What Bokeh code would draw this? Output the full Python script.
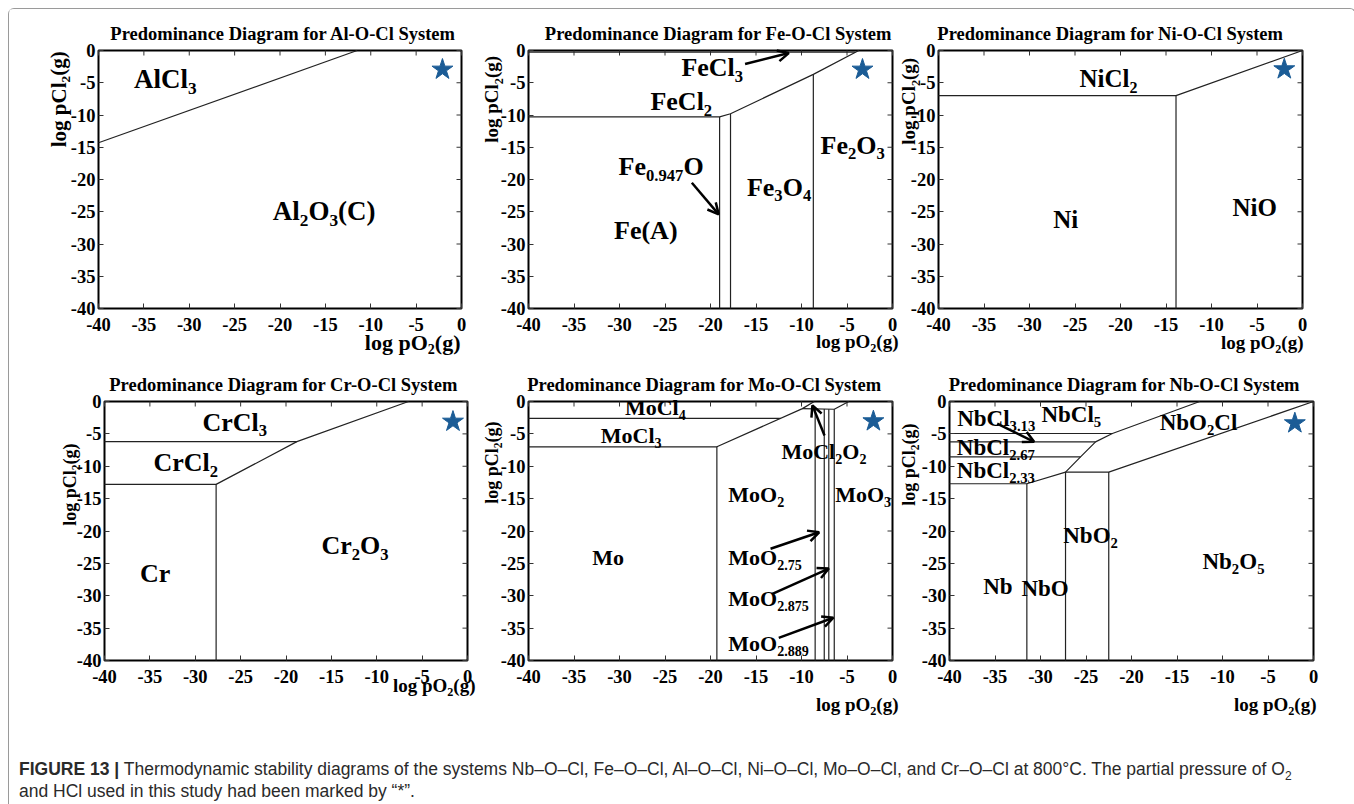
import re
import math
from bokeh.plotting import figure
from bokeh.models import (Range1d, FixedTicker, ColumnDataSource, LinearAxis,
                          LabelSet, Arrow, OpenHead, Div)
from bokeh.layouts import row, column
from bokeh.embed import file_html
from bokeh.resources import INLINE
from bokeh.core.properties import value

# ------------------------------------------------------------------ data
X_MIN, X_MAX = -40, 0
Y_MIN, Y_MAX = -40, 0
TICKS = [-40, -35, -30, -25, -20, -15, -10, -5, 0]
TICK_LABELS = ["-40", "-35", "-30", "-25", "-20", "-15", "-10", "-5", "0"]
X_TITLE = "log pO_{2}(g)"
Y_TITLE = "log pCl_{2}(g)"

# Al-O-Cl
AL_TITLE = "Predominance Diagram for Al-O-Cl System"
AL_XS = [[-40, -11.5]]
AL_YS = [[-14.3, 0]]
AL_STAR = [-2.1, -2.95]
AL_LABELS = ["AlCl_{3}", "Al_{2}O_{3}(C)"]
AL_LX = [-36.1, -20.8]
AL_LY = [-5.8, -26.3]
AL_AX0, AL_AY0, AL_AX1, AL_AY1 = [], [], [], []

# Fe-O-Cl
FE_TITLE = "Predominance Diagram for Fe-O-Cl System"
FE_XS = [[-40, -19.0, -17.8, -8.7, -3.7], [-19.0, -19.0], [-17.8, -17.8],
         [-8.7, -8.7], [-40, -4.1]]
FE_YS = [[-10.3, -10.3, -9.8, -3.7, 0], [-40, -10.3], [-40, -9.8],
         [-40, -3.7], [-0.25, -0.25]]
FE_STAR = [-3.3, -2.95]
FE_LABELS = ["FeCl_{3}", "FeCl_{2}", "Fe_{0.947}O", "Fe(A)", "Fe_{3}O_{4}", "Fe_{2}O_{3}"]
FE_LX = [-23.2, -26.6, -30.1, -30.6, -16.0, -7.9]
FE_LY = [-4.0, -9.2, -19.3, -29.3, -22.5, -16.0]
FE_AX0, FE_AY0 = [-16.2, -22.05], [-2.1, -20.5]
FE_AX1, FE_AY1 = [-11.4, -19.1], [-0.4, -25.4]

# Ni-O-Cl
NI_TITLE = "Predominance Diagram for Ni-O-Cl System"
NI_XS = [[-40, -13.9, 0], [-13.9, -13.9]]
NI_YS = [[-7.0, -7.0, 0], [-40, -7.0]]
NI_STAR = [-2.0, -2.9]
NI_LABELS = ["NiCl_{2}", "Ni", "NiO"]
NI_LX = [-24.5, -27.4, -7.7]
NI_LY = [-5.7, -27.5, -25.7]
NI_AX0, NI_AY0, NI_AX1, NI_AY1 = [], [], [], []

# Cr-O-Cl
CR_TITLE = "Predominance Diagram for Cr-O-Cl System"
CR_XS = [[-40, -18.8], [-40, -27.7, -18.8, -6.5], [-27.7, -27.7]]
CR_YS = [[-6.2, -6.2], [-12.8, -12.8, -6.2, 0], [-40, -12.8]]
CR_STAR = [-1.6, -3.1]
CR_LABELS = ["CrCl_{3}", "CrCl_{2}", "Cr", "Cr_{2}O_{3}"]
CR_LX = [-29.2, -34.6, -36.1, -16.1]
CR_LY = [-4.5, -10.8, -27.9, -23.6]
CR_AX0, CR_AY0, CR_AX1, CR_AY1 = [], [], [], []

# Mo-O-Cl
MO_TITLE = "Predominance Diagram for Mo-O-Cl System"
MO_XS = [[-40, -19.3, -9.9, -8.6], [-19.3, -19.3], [-40, -12.3],
         [-9.9, -6.4, -4.8], [-8.5, -8.5], [-7.5, -7.5], [-7.0, -7.0], [-6.4, -6.4]]
MO_YS = [[-7.0, -7.0, -1.1, 0], [-40, -7.0], [-2.6, -2.6],
         [-1.1, -1.2, 0], [-40, -1.15], [-40, -1.15], [-40, -1.2], [-40, -1.2]]
MO_STAR = [-2.1, -3.04]
MO_LABELS = ["MoCl_{4}", "MoCl_{3}", "MoCl_{2}O_{2}", "MoO_{2}", "MoO_{3}", "Mo",
             "MoO_{2.75}", "MoO_{2.875}", "MoO_{2.889}"]
MO_LX = [-29.4, -32.05, -12.2, -18.05, -6.3, -33.0, -18.05, -18.05, -18.05]
MO_LY = [-2.16, -6.4, -8.85, -15.5, -15.5, -25.2, -25.2, -31.6, -38.5]
MO_AX0, MO_AY0 = [-7.47, -13.4, -13.2, -12.5], [-5.25, -22.75, -29.7, -36.5]
MO_AX1, MO_AY1 = [-8.8, -8.06, -7.0, -6.5], [-0.6, -20.2, -25.8, -33.4]

# Nb-O-Cl
NB_TITLE = "Predominance Diagram for Nb-O-Cl System"
NB_XS = [[-40, -22.1], [-40, -23.95], [-40, -25.6], [-40, -31.5, -27.25, -22.5, 0],
         [-27.25, -25.6, -23.95, -22.1, -12.5], [-31.5, -31.5], [-27.25, -27.25],
         [-22.5, -22.5]]
NB_YS = [[-4.94, -4.94], [-6.23, -6.23], [-8.55, -8.55], [-12.7, -12.7, -10.9, -10.9, 0],
         [-10.9, -8.55, -6.23, -4.94, 0], [-40, -12.7], [-40, -10.9], [-40, -10.9]]
NB_STAR = [-2.05, -3.35]
NB_LABELS = ["NbCl_{3.13}", "NbCl_{5}", "NbCl_{2.67}", "NbCl_{2.33}", "NbO_{2}Cl",
             "NbO_{2}", "Nb_{2}O_{5}", "Nb", "NbO"]
NB_LX = [-39.16, -29.9, -39.2, -39.2, -16.9, -27.5, -12.2, -36.3, -32.1]
NB_LY = [-3.8, -3.1, -8.3, -11.8, -4.4, -21.9, -25.8, -29.7, -30.1]
NB_AX0, NB_AY0, NB_AX1, NB_AY1 = [-34.76], [-3.4], [-30.7], [-6.23]

CAPTION = ('<b>FIGURE 13 |</b> Thermodynamic stability diagrams of the systems '
           'Nb–O–Cl, Fe–O–Cl, Al–O–Cl, Ni–O–Cl, Mo–O–Cl, and Cr–O–Cl at 800°C. '
           'The partial pressure of O<sub style="font-size:12px;line-height:0">2</sub><br>'
           'and HCl used in this study had been marked by “*”.')

# ------------------------------------------------------------------ styling helpers
SERIF = "Liberation Serif"
STAR_COLOR = "#1b5c96"
LINE_COLOR = "#222222"

WIDTHS = {' ': 250, '(': 333, ')': 333, '-': 333, '.': 250, 'A': 722, 'C': 722,
          'D': 722, 'F': 611, 'M': 944, 'N': 722, 'O': 778, 'P': 611, 'S': 556,
          'a': 500, 'b': 556, 'c': 444, 'd': 556, 'e': 444, 'f': 333, 'g': 500,
          'i': 278, 'l': 278, 'm': 833, 'n': 556, 'o': 500, 'p': 556, 'r': 444,
          's': 389, 't': 333, 'y': 500}


def text_width(s, size):
    return sum(WIDTHS.get(c, 500) for c in s) / 1000.0 * size


def parse(markup):
    parts = re.split(r"_\{([^}]*)\}", markup)
    return [(p, i % 2 == 1) for i, p in enumerate(parts) if p]


def rich_rows(items, angle=0.0, align="left", ratio=0.64, drop=0.22):
    rows = []
    ca, sa = math.cos(angle), math.sin(angle)
    for markup, x, y, size, bdx, bdy in items:
        segs = parse(markup)
        total = sum(text_width(t, size * ratio if sub else size) for t, sub in segs)
        adv = {"left": 0.0, "center": -total / 2.0, "right": -total}[align]
        for t, sub in segs:
            fs = size * ratio if sub else size
            d = drop * size if sub else 0.0
            rows.append((x, y, t, bdx + adv * ca + d * sa, bdy + adv * sa - d * ca,
                         "%.1fpx" % fs))
            adv += text_width(t, fs)
    return rows


def add_rich(p, items, angle=0.0, align="left"):
    rows = rich_rows(items, angle=angle, align=align)
    src = ColumnDataSource(dict(x=[r[0] for r in rows], y=[r[1] for r in rows],
                                text=[r[2] for r in rows], xo=[r[3] for r in rows],
                                yo=[r[4] for r in rows], fs=[r[5] for r in rows]))
    p.add_layout(LabelSet(source=src, x="x", y="y", text="text", x_offset="xo",
                          y_offset="yo", text_font_size="fs", angle=angle,
                          text_font=value(SERIF), text_font_style="bold",
                          text_align="left", text_baseline="alphabetic",
                          text_color="black"))


def style_axis(ax):
    ax.ticker = FixedTicker(ticks=TICKS)
    ax.major_label_overrides = {t: l for t, l in zip(TICKS, TICK_LABELS)}
    ax.axis_line_color = None
    ax.major_tick_in = 5
    ax.major_tick_out = 0
    ax.minor_tick_in = 0
    ax.minor_tick_out = 0
    ax.major_tick_line_color = "#333333"
    ax.major_tick_line_width = 1
    ax.major_label_text_font = SERIF
    ax.major_label_text_font_style = "bold"
    ax.major_label_text_font_size = "18.5px"
    ax.major_label_text_color = "black"


def make_panel(title, title_dx, xs, ys, star, labels, lx, ly, lsize,
               ax0, ay0, ax1, ay1, xlab, ylab, width, borders, height):
    bl, br, bt, bb = borders
    ux = (X_MAX - X_MIN) / float(width - bl - br)     # data units per pixel
    uy = (Y_MAX - Y_MIN) / float(height - bt - bb)
    p = figure(width=width, height=height,
               x_range=Range1d(X_MIN - bl * ux, X_MAX + br * ux),
               y_range=Range1d(Y_MIN - bb * uy, Y_MAX + bt * uy),
               x_axis_location=None, y_axis_location=None,
               output_backend="svg", toolbar_location=None,
               min_border_left=0, min_border_right=0, min_border_top=0,
               min_border_bottom=0, background_fill_color="white",
               border_fill_color="white", outline_line_color=None)
    p.grid.visible = False

    xa = LinearAxis(fixed_location=Y_MIN)
    ya = LinearAxis(fixed_location=X_MIN)
    style_axis(xa)
    style_axis(ya)
    xa.major_label_standoff = 9
    ya.major_label_standoff = 3
    p.add_layout(xa, "below")
    p.add_layout(ya, "left")

    # plot box and inward ticks on the top and right edges
    p.quad(left=[X_MIN], right=[X_MAX], bottom=[Y_MIN], top=[Y_MAX],
           fill_color=None, line_color="black", line_width=2)
    p.ray(x=TICKS, y=[Y_MAX] * len(TICKS), length=5, length_units="screen",
          angle=-math.pi / 2, line_color="#333333", line_width=1)
    p.ray(x=[X_MAX] * len(TICKS), y=TICKS, length=5, length_units="screen",
          angle=math.pi, line_color="#333333", line_width=1)

    p.multi_line(xs=xs, ys=ys, line_color=LINE_COLOR, line_width=1.2)
    p.scatter(x=[star[0]], y=[star[1]], marker="star", size=22,
              fill_color=STAR_COLOR, line_color=STAR_COLOR)

    if ax0:
        src = ColumnDataSource(dict(x0=ax0, y0=ay0, x1=ax1, y1=ay1))
        p.add_layout(Arrow(source=src, x_start="x0", y_start="y0", x_end="x1",
                           y_end="y1", line_width=2.5, line_color="black",
                           end=OpenHead(size=11, line_width=2.5, line_color="black")))

    add_rich(p, [(m, x, y, lsize, 0, 0) for m, x, y in zip(labels, lx, ly)])

    add_rich(p, [(title, (X_MIN + X_MAX) / 2.0, Y_MAX, 18.5, title_dx, 11)],
             align="center")
    xsize, xdr, xdb = xlab
    add_rich(p, [(X_TITLE, X_MAX, Y_MIN, xsize, xdr, -xdb)], align="right")
    ysize, ydl, ystart = ylab
    add_rich(p, [(Y_TITLE, X_MIN, ystart, ysize, -ydl, 0)], angle=math.pi / 2)
    return p


p_al = make_panel(AL_TITLE, 3.5, AL_XS, AL_YS, AL_STAR, AL_LABELS, AL_LX, AL_LY, 27,
                  AL_AX0, AL_AY0, AL_AX1, AL_AY1, (22, -1, 41), (21, 33, -15.0),
                  461, (89, 9, 41, 49), 348)
p_fe = make_panel(FE_TITLE, 8, FE_XS, FE_YS, FE_STAR, FE_LABELS, FE_LX, FE_LY, 26,
                  FE_AX0, FE_AY0, FE_AX1, FE_AY1, (19, 6, 39), (19, 30, -14.3),
                  430, (58, 8, 41, 49), 348)
p_ni = make_panel(NI_TITLE, -10, NI_XS, NI_YS, NI_STAR, NI_LABELS, NI_LX, NI_LY, 25,
                  NI_AX0, NI_AY0, NI_AX1, NI_AY1, (19, 1, 40), (19, 23, -14.6),
                  445, (38, 43, 41, 49), 348)
p_cr = make_panel(CR_TITLE, -2, CR_XS, CR_YS, CR_STAR, CR_LABELS, CR_LX, CR_LY, 26,
                  CR_AX0, CR_AY0, CR_AX1, CR_AY1, (19, 8, 31), (18, 28, -19.2),
                  471, (95, 13, 44, 57), 360)
p_mo = make_panel(MO_TITLE, -6, MO_XS, MO_YS, MO_STAR, MO_LABELS, MO_LX, MO_LY, 22,
                  MO_AX0, MO_AY0, MO_AX1, MO_AY1, (19, 6, 50), (18, 30, -15.8),
                  420, (48, 8, 44, 57), 360)
p_nb = make_panel(NB_TITLE, -7, NB_XS, NB_YS, NB_STAR, NB_LABELS, NB_LX, NB_LY, 23,
                  NB_AX0, NB_AY0, NB_AX1, NB_AY1, (19, 3, 50), (18, 34, -16.1),
                  445, (49, 32, 44, 57), 360)

caption = Div(text=('<div style="margin-top:36px;margin-left:5px;'
                    'font-family:\'Liberation Sans\',Arial,sans-serif;font-size:17.5px;'
                    'line-height:22px;color:#2a2a2a;white-space:nowrap">' + CAPTION + '</div>'),
              width=1336, height=86)

layout = column(row(p_al, p_fe, p_ni), row(p_cr, p_mo, p_nb), caption,
                styles={"border": "1px solid #9a9a9a", "border-bottom": "none",
                        "border-radius": "6px 6px 0 0", "margin-left": "8px",
                        "margin-top": "8px"})

open("out.html", "w").write(file_html(layout, INLINE))
